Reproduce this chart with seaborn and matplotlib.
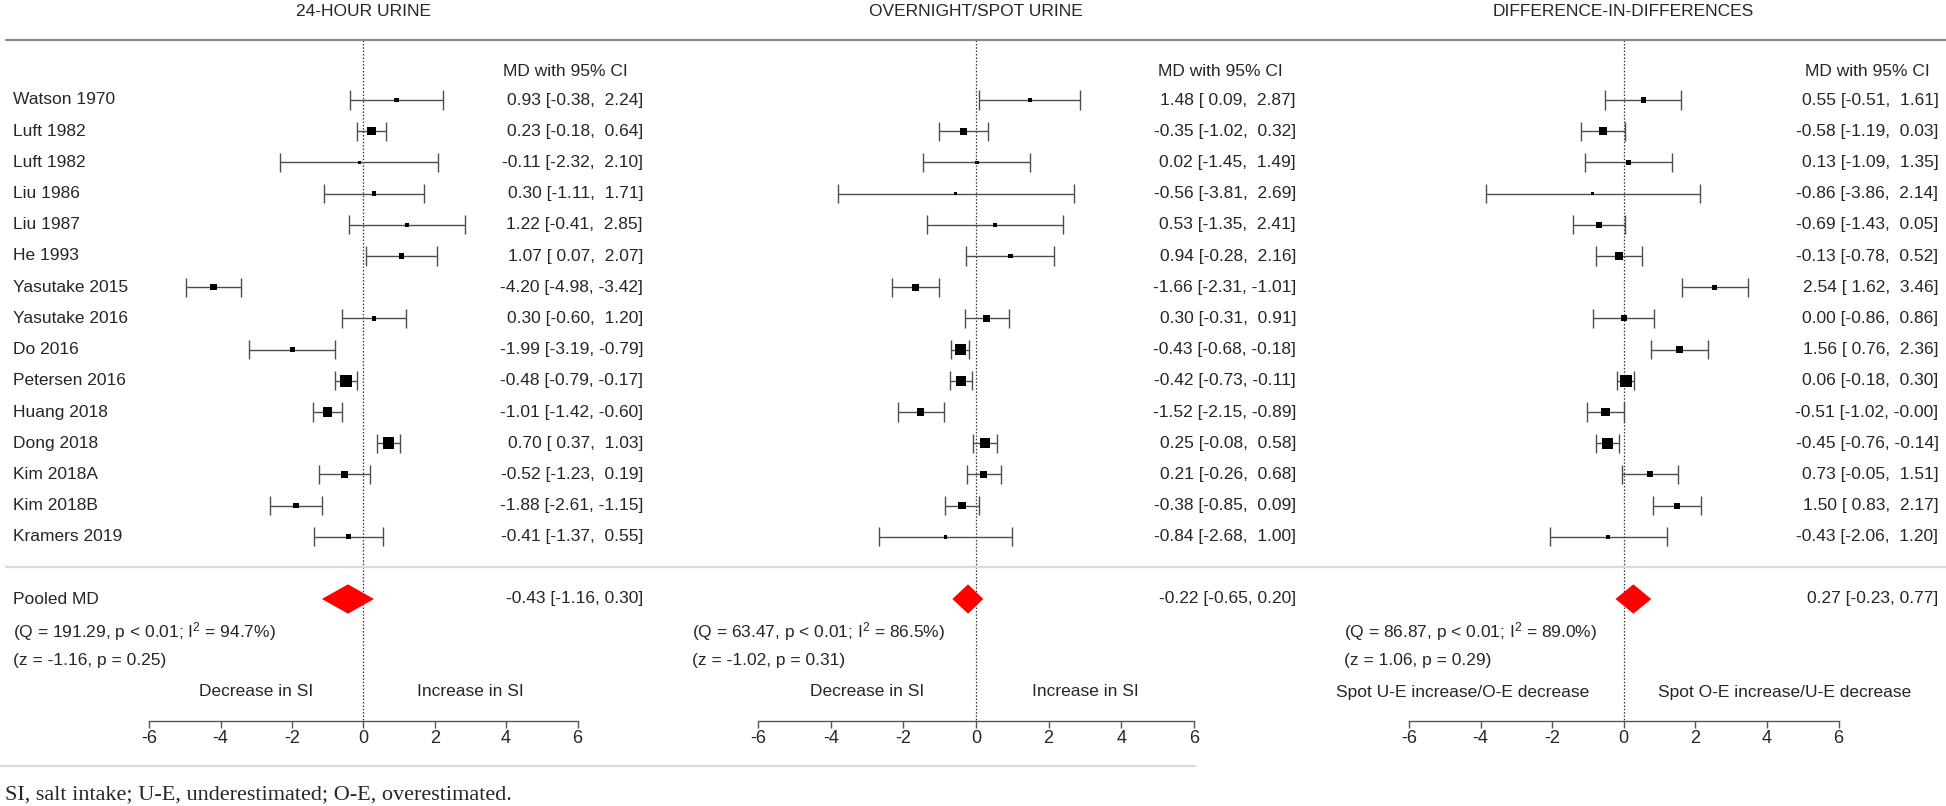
import numpy as np
import pandas as pd
import matplotlib
matplotlib.use("Agg")
import matplotlib.pyplot as plt
import seaborn as sns

# ---------------- data ----------------
studies = ["Watson 1970", "Luft 1982", "Luft 1982", "Liu 1986", "Liu 1987", "He 1993",
           "Yasutake 2015", "Yasutake 2016", "Do 2016", "Petersen 2016", "Huang 2018",
           "Dong 2018", "Kim 2018A", "Kim 2018B", "Kramers 2019"]

md_24h = [0.93, 0.23, -0.11, 0.30, 1.22, 1.07, -4.20, 0.30, -1.99, -0.48, -1.01, 0.70, -0.52, -1.88, -0.41]
lo_24h = [-0.38, -0.18, -2.32, -1.11, -0.41, 0.07, -4.98, -0.60, -3.19, -0.79, -1.42, 0.37, -1.23, -2.61, -1.37]
hi_24h = [2.24, 0.64, 2.10, 1.71, 2.85, 2.07, -3.42, 1.20, -0.79, -0.17, -0.60, 1.03, 0.19, -1.15, 0.55]
w_24h = [2.9, 9.4, 1.3, 3.2, 2.4, 3.7, 5.3, 3.2, 3.7, 17.8, 11.9, 17.8, 6.6, 4.1, 3.7]

md_spot = [1.48, -0.35, 0.02, -0.56, 0.53, 0.94, -1.66, 0.30, -0.43, -0.42, -1.52, 0.25, 0.21, -0.38, -0.84]
lo_spot = [0.09, -1.02, -1.45, -3.81, -1.35, -0.28, -2.31, -0.31, -0.68, -0.73, -2.15, -0.08, -0.26, -0.85, -2.68]
hi_spot = [2.87, 0.32, 1.49, 2.69, 2.41, 2.16, -1.01, 0.91, -0.18, -0.11, -0.89, 0.58, 0.68, 0.09, 1.00]
w_spot = [1.7, 6.6, 1.7, 1.0, 2.3, 3.2, 6.6, 6.6, 17.6, 14.6, 6.6, 14.6, 7.7, 7.7, 1.6]

md_did = [0.55, -0.58, 0.13, -0.86, -0.69, -0.13, 2.54, 0.00, 1.56, 0.06, -0.51, -0.45, 0.73, 1.50, -0.43]
lo_did = [-0.51, -1.19, -1.09, -3.86, -1.43, -0.78, 1.62, -0.86, 0.76, -0.18, -1.02, -0.76, -0.05, 0.83, -2.06]
hi_did = [1.61, 0.03, 1.35, 2.14, 0.05, 0.52, 3.46, 0.86, 2.36, 0.30, -0.0, -0.14, 1.51, 2.17, 1.20]
w_did = [4.2, 7.5, 4.2, 1.2, 4.7, 7.5, 3.7, 4.7, 5.4, 20.2, 8.9, 16.7, 4.7, 4.7, 1.8]

titles = ["24-HOUR URINE", "OVERNIGHT/SPOT URINE", "DIFFERENCE-IN-DIFFERENCES"]
pooled_md = [-0.43, -0.22, 0.27]
pooled_lo = [-1.16, -0.65, -0.23]
pooled_hi = [0.30, 0.20, 0.77]
het_Q = [191.29, 63.47, 86.87]
het_I2 = [94.7, 86.5, 89.0]
test_z = [-1.16, -1.02, 1.06]
test_p = [0.25, 0.31, 0.29]
favors_left = ["Decrease in SI", "Decrease in SI", "Spot U-E increase/O-E decrease"]
favors_right = ["Increase in SI", "Increase in SI", "Spot O-E increase/U-E decrease"]
x_ticks = [-6, -4, -2, 0, 2, 4, 6]
footnote = "SI, salt intake; U-E, underestimated; O-E, overestimated."

# ---------------- style ----------------
sns.set_theme(style="white")
plt.rcParams["font.family"] = ["Liberation Sans", "DejaVu Sans"]
plt.rcParams["mathtext.fontset"] = "custom"
plt.rcParams["mathtext.rm"] = "Liberation Sans"
plt.rcParams["mathtext.it"] = "Liberation Sans:italic"
plt.rcParams["mathtext.bf"] = "Liberation Sans:bold"

W, H = 1946, 806
FS = 12.5
fig = plt.figure(figsize=(W / 100, H / 100), dpi=100)
fig.patch.set_facecolor("white")

ROW0, ROWH = 100.0, 31.2   # pixel y of first study row, spacing


def ry(px):
    return (px - ROW0) / ROWH


# (left px, right px, px of zero, px per unit)
panel_geo = [(0, 660, 363.3, 35.7), (660, 1300, 976.0, 36.3), (1300, 1946, 1623.7, 35.8)]
val_right_px = [643, 1296, 1938.5]
hdr_right_px = [628, 1283, 1930]
q_left_px = [12.6, 691.6, 1344]
fav_off = [3.0, 3.0, 4.5]

panel_data = [(md_24h, lo_24h, hi_24h, w_24h),
              (md_spot, lo_spot, hi_spot, w_spot),
              (md_did, lo_did, hi_did, w_did)]

rows = np.arange(len(studies))
line_col = "#4d4d4d"

for k, ((x0, x1, zpx, upx), (md, lo, hi, wt)) in enumerate(zip(panel_geo, panel_data)):
    ax = fig.add_axes([x0 / W, 0, (x1 - x0) / W, 1])
    ax.set_facecolor("none")
    tox = lambda px: (px - zpx) / upx

    df = pd.DataFrame({"row": rows, "md": md, "lo": lo, "hi": hi, "w": wt})

    # CI lines and caps
    ax.hlines(df["row"], df["lo"], df["hi"], color=line_col, lw=1.0, zorder=2)
    ax.vlines(df["lo"], df["row"] - 0.31, df["row"] + 0.31, color=line_col, lw=1.0, zorder=2)
    ax.vlines(df["hi"], df["row"] - 0.31, df["row"] + 0.31, color=line_col, lw=1.0, zorder=2)

    # weighted square markers
    sns.scatterplot(data=df, x="md", y="row", marker="s", color="black",
                    s=df["w"] * 3.9, linewidth=0, legend=False, ax=ax, zorder=3)

    # pooled diamond
    yp = ry(599)
    dh = 0.47
    ax.fill([pooled_lo[k], pooled_md[k], pooled_hi[k], pooled_md[k]],
            [yp, yp - dh, yp, yp + dh], color="#ff0000", lw=0, zorder=3)

    # reference dotted line
    ax.plot([0, 0], [ry(40), ry(720.7)], ls=(0, (1.2, 1.5)), color="#333333", lw=0.9, zorder=1)

    # horizontal rules
    xmin_top = 6 / (x1 - x0) if k == 0 else 0
    ax.axhline(ry(40), xmin=xmin_top, xmax=1, color="#8a8a8a", lw=1.6)
    ax.axhline(ry(567), xmin=xmin_top, xmax=1, color="#dadada", lw=1.6)
    if k == 0:
        ax.axhline(ry(765.7), xmin=0, xmax=1, color="#dadada", lw=1.6)
    elif k == 1:
        ax.axhline(ry(765.7), xmin=0, xmax=(1195 - x0) / (x1 - x0), color="#dadada", lw=1.6)

    # title
    ax.text(0, ry(11), titles[k], ha="center", va="center", fontsize=FS)

    # header
    ax.text(tox(hdr_right_px[k]), ry(72), "MD with 95% CI", ha="right", va="center", fontsize=FS)

    # per-study texts
    for i in range(len(studies)):
        if k == 0:
            ax.text(tox(12.6), i, studies[i], ha="left", va="center", fontsize=FS)
        s = f"{md[i]:.2f} [{lo[i]:5.2f}, {hi[i]:5.2f}]"
        ax.text(tox(val_right_px[k]), i, s, ha="right", va="center", fontsize=FS)

    # pooled texts
    if k == 0:
        ax.text(tox(12.6), yp, "Pooled MD", ha="left", va="center", fontsize=FS)
    ax.text(tox(val_right_px[k]), yp,
            f"{pooled_md[k]:.2f} [{pooled_lo[k]:.2f}, {pooled_hi[k]:.2f}]",
            ha="right", va="center", fontsize=FS)
    ax.text(tox(q_left_px[k]), ry(631.7),
            f"(Q = {het_Q[k]:.2f}, p < 0.01; I$^{{2}}$ = {het_I2[k]:.1f}%)",
            ha="left", va="center", fontsize=FS)
    ax.text(tox(q_left_px[k]), ry(660),
            f"(z = {test_z[k]:.2f}, p = {test_p[k]:.2f})",
            ha="left", va="center", fontsize=FS)

    # favours labels
    ax.text(-fav_off[k], ry(692), favors_left[k], ha="center", va="center", fontsize=FS)
    ax.text(fav_off[k], ry(692), favors_right[k], ha="center", va="center", fontsize=FS)

    # axis
    ax.set_xlim(tox(x0), tox(x1))
    ax.set_ylim(ry(H), ry(0))
    for sp in ["top", "left", "right"]:
        ax.spines[sp].set_visible(False)
    ax.spines["bottom"].set_position(("data", ry(720.7)))
    ax.spines["bottom"].set_bounds(-6, 6)
    ax.spines["bottom"].set_color("#555555")
    ax.spines["bottom"].set_linewidth(1.0)
    ax.set_xticks(x_ticks)
    ax.set_xticklabels([str(t) for t in x_ticks])
    ax.set_yticks([])
    ax.tick_params(axis="x", direction="out", length=5, width=1.0, color="#555555",
                   labelsize=13, pad=2, bottom=True)
    ax.set_xlabel("")
    ax.set_ylabel("")
    ax.grid(False)

fig.text(5 / W, 1 - 795 / H, footnote, ha="left", va="center",
         family=["Liberation Serif", "DejaVu Serif"], fontsize=16)

fig.savefig("out.png", dpi=100, facecolor="white")
